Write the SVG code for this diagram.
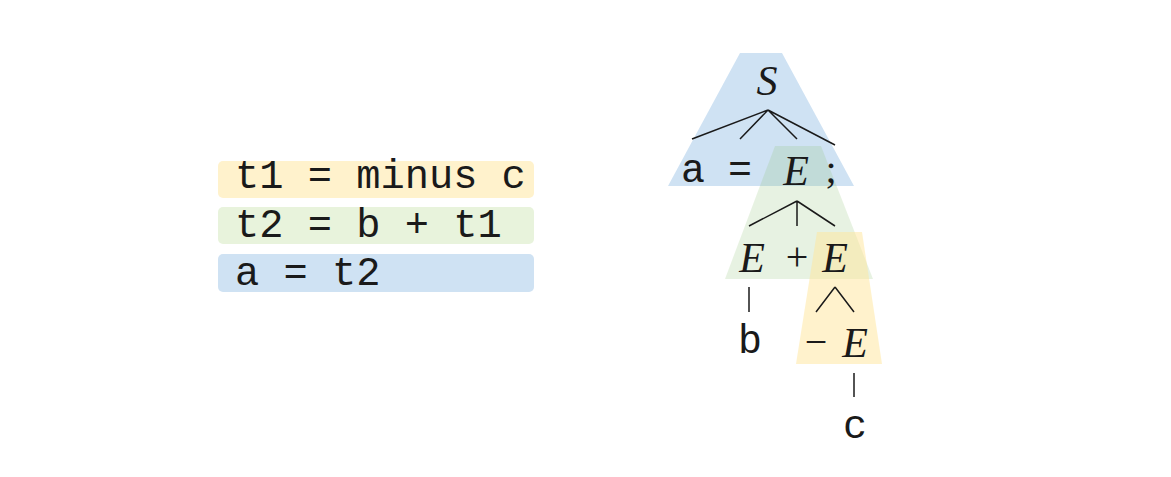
<svg xmlns="http://www.w3.org/2000/svg" width="1171" height="477" viewBox="0 0 1171 477">
<style>
.mono{font-family:"Liberation Mono","Courier New",monospace;font-size:40px;fill:#1a1a1a}
.code{font-family:"Liberation Mono","Courier New",monospace;font-size:40.4px;fill:#1a1a1a}
.math{font-family:"Liberation Serif","Times New Roman",serif;font-style:italic;font-size:42px;fill:#1a1a1a}
.sym{font-family:"Liberation Serif","Times New Roman",serif;font-size:40px;fill:#1a1a1a}
.edge{stroke:#1a1a1a;stroke-width:1.5;fill:none}
.blue{fill:#cfe2f3}
.green{fill:#93c47d;fill-opacity:0.22}
.orange{fill:#ffe599;fill-opacity:0.5}
</style>
<rect width="1171" height="477" fill="#ffffff"/>
<g id="code">
<g id="line-t1"><rect x="218" y="161" width="316" height="37" rx="5" fill="#fff2cc"/><text class="code" x="235" y="188">t1 = minus c</text></g>
<g id="line-t2"><rect x="218" y="207" width="316" height="37" rx="5" fill="#e8f3dc"/><text class="code" x="235" y="237">t2 = b + t1</text></g>
<g id="line-a"><rect x="218" y="254" width="316" height="38" rx="5" fill="#cfe2f3"/><text class="code" x="235" y="285">a = t2</text></g>
</g>
<g id="regions">
<polygon class="blue" points="740,53 782,53 854,186 668,186"/>
<polygon class="green" points="775,146 821,146 873,279 725,279"/>
<polygon class="orange" points="817,232 862,232 882,364 796,364"/>
</g>
<g id="connectors">
<path class="edge" d="M768,110 L692,139 M768,110 L740,139 M768,110 L797,139 M768,110 L835,145"/>
<path class="edge" d="M797,201 L749,226 M797,201 L797,226 M797,201 L835,226"/>
<path class="edge" d="M749,287 L749,312"/>
<path class="edge" d="M835,287 L816,312 M835,287 L854,312"/>
<path class="edge" d="M854,373 L854,397"/>
</g>
<g id="node-S"><text class="math" x="767" y="95" text-anchor="middle">S</text></g>
<g id="node-a"><text class="mono" x="693" y="182" text-anchor="middle">a</text></g>
<g id="node-eq"><text class="mono" x="740" y="182" text-anchor="middle">=</text></g>
<g id="node-E1"><text class="math" x="796" y="185" text-anchor="middle">E</text></g>
<g id="node-semi"><text class="sym" x="831" y="183" text-anchor="middle">;</text></g>
<g id="node-E2"><text class="math" x="752" y="272" text-anchor="middle">E</text></g>
<g id="node-plus"><text class="sym" x="797" y="270" text-anchor="middle">+</text></g>
<g id="node-E3"><text class="math" x="835" y="272" text-anchor="middle">E</text></g>
<g id="node-b"><text class="mono" x="750" y="353" text-anchor="middle">b</text></g>
<g id="node-minus"><text class="sym" x="816" y="355" text-anchor="middle">−</text></g>
<g id="node-E4"><text class="math" x="855" y="357" text-anchor="middle">E</text></g>
<g id="node-c"><text class="mono" x="855" y="438" text-anchor="middle">c</text></g>
</svg>
